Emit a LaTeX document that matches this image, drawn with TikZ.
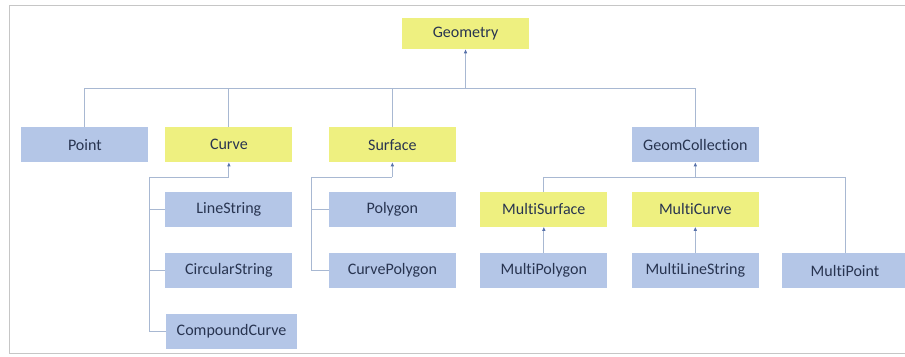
\documentclass[tikz,border=0pt]{standalone}
\usepackage{fontspec}
\setmainfont[Ligatures={NoCommon}]{Carlito}
\usepackage{tikz}
\usepackage{tikz-network}
\usetikzlibrary{arrows.meta}
\definecolor{boxyellow}{RGB}{238,240,128}
\definecolor{boxblue}{RGB}{180,198,231}
\definecolor{linkblue}{RGB}{168,184,210}
\definecolor{tipblue}{RGB}{88,114,170}
\definecolor{labelnavy}{RGB}{40,52,80}
\newcommand{\classfont}{\fontsize{15.2}{17}\selectfont}
\tikzset{
  classbox/.style={rectangle, draw=none, minimum width=4.23cm, minimum height=1.17cm,
    inner sep=0pt, text=labelnavy, font=\classfont},
  bendpoint/.style={inner sep=0pt, outer sep=0pt, minimum size=0pt},
  inherit/.style={line width=0.9pt, -{Latex[length=4pt,width=3.4pt,color=tipblue]}},
  plainlink/.style={line width=0.9pt, -},
}

\begin{document}
\begin{tikzpicture}
		\useasboundingbox (0,0) rectangle (30.17,11.87);
		\draw[gray!45, line width=0.8pt] (30.17,11.70) -- (0.33,11.70) -- (0.33,0.10) -- (30.17,0.10);
		\Vertex[label = Geometry, x = 15.52, y = 10.75, shape = rectangle, color = boxyellow, fontsize = \classfont, fontcolor = labelnavy, style = {classbox, minimum height=1.03cm}]{Geometry}
		\Vertex[label = Point, x = 2.83, y = 7.05, shape = rectangle, color = boxblue, fontsize = \classfont, fontcolor = labelnavy, style = {classbox}]{Point}
		\Vertex[label = Curve, x = 7.63, y = 7.05, shape = rectangle, color = boxyellow, fontsize = \classfont, fontcolor = labelnavy, style = {classbox}]{Curve}
		\Vertex[label = Surface, x = 13.08, y = 7.05, shape = rectangle, color = boxyellow, fontsize = \classfont, fontcolor = labelnavy, style = {classbox}]{Surface}
		\Vertex[label = GeomCollection, x = 23.18, y = 7.05, shape = rectangle, color = boxblue, fontsize = \classfont, fontcolor = labelnavy, style = {classbox}]{GeomCollection}
		\Vertex[label = LineString, x = 7.63, y = 4.90, shape = rectangle, color = boxblue, fontsize = \classfont, fontcolor = labelnavy, style = {classbox}]{LineString}
		\Vertex[label = CircularString, x = 7.63, y = 2.85, shape = rectangle, color = boxblue, fontsize = \classfont, fontcolor = labelnavy, style = {classbox}]{CircularString}
		\Vertex[label = CompoundCurve, x = 7.72, y = 0.83, shape = rectangle, color = boxblue, fontsize = \classfont, fontcolor = labelnavy, style = {classbox, minimum width=4.37cm}]{CompoundCurve}
		\Vertex[label = Polygon, x = 13.08, y = 4.90, shape = rectangle, color = boxblue, fontsize = \classfont, fontcolor = labelnavy, style = {classbox}]{Polygon}
		\Vertex[label = CurvePolygon, x = 13.08, y = 2.85, shape = rectangle, color = boxblue, fontsize = \classfont, fontcolor = labelnavy, style = {classbox}]{CurvePolygon}
		\Vertex[label = MultiSurface, x = 18.13, y = 4.90, shape = rectangle, color = boxyellow, fontsize = \classfont, fontcolor = labelnavy, style = {classbox}]{MultiSurface}
		\Vertex[label = MultiCurve, x = 23.18, y = 4.90, shape = rectangle, color = boxyellow, fontsize = \classfont, fontcolor = labelnavy, style = {classbox}]{MultiCurve}
		\Vertex[label = MultiPolygon, x = 18.13, y = 2.85, shape = rectangle, color = boxblue, fontsize = \classfont, fontcolor = labelnavy, style = {classbox}]{MultiPolygon}
		\Vertex[label = MultiLineString, x = 23.18, y = 2.85, shape = rectangle, color = boxblue, fontsize = \classfont, fontcolor = labelnavy, style = {classbox}]{MultiLineString}
		\Vertex[label = MultiPoint, x = 28.17, y = 2.85, shape = rectangle, color = boxblue, fontsize = \classfont, fontcolor = labelnavy, style = {classbox}]{MultiPoint}
		% bend points
		\Vertex[x = 15.52, y = 8.93, size = 0, style = {bendpoint}, Pseudo]{gTop}
		\Vertex[x = 2.83, y = 8.93, size = 0, style = {bendpoint}, Pseudo]{gPoint}
		\Vertex[x = 7.63, y = 8.93, size = 0, style = {bendpoint}, Pseudo]{gCurve}
		\Vertex[x = 13.08, y = 8.93, size = 0, style = {bendpoint}, Pseudo]{gSurface}
		\Vertex[x = 23.18, y = 8.93, size = 0, style = {bendpoint}, Pseudo]{gColl}
		\Vertex[x = 7.63, y = 5.97, size = 0, style = {bendpoint}, Pseudo]{cTop}
		\Vertex[x = 4.97, y = 5.97, size = 0, style = {bendpoint}, Pseudo]{cLeft}
		\Vertex[x = 4.97, y = 4.90, size = 0, style = {bendpoint}, Pseudo]{cLine}
		\Vertex[x = 4.97, y = 2.85, size = 0, style = {bendpoint}, Pseudo]{cCirc}
		\Vertex[x = 4.97, y = 0.83, size = 0, style = {bendpoint}, Pseudo]{cComp}
		\Vertex[x = 13.08, y = 5.97, size = 0, style = {bendpoint}, Pseudo]{sTop}
		\Vertex[x = 10.40, y = 5.97, size = 0, style = {bendpoint}, Pseudo]{sLeft}
		\Vertex[x = 10.40, y = 4.90, size = 0, style = {bendpoint}, Pseudo]{sPoly}
		\Vertex[x = 10.40, y = 2.85, size = 0, style = {bendpoint}, Pseudo]{sCurvePoly}
		\Vertex[x = 23.18, y = 5.97, size = 0, style = {bendpoint}, Pseudo]{mTop}
		\Vertex[x = 18.13, y = 5.97, size = 0, style = {bendpoint}, Pseudo]{mLeft}
		\Vertex[x = 28.17, y = 5.97, size = 0, style = {bendpoint}, Pseudo]{mRight}
		% Geometry
		\Edge[Direct, color = linkblue, style = {inherit}](gTop)(Geometry)
		\Edge[color = linkblue, style = {plainlink}](gPoint)(gColl)
		\Edge[color = linkblue, style = {plainlink}](gPoint)(Point)
		\Edge[color = linkblue, style = {plainlink}](gCurve)(Curve)
		\Edge[color = linkblue, style = {plainlink}](gSurface)(Surface)
		\Edge[color = linkblue, style = {plainlink}](gColl)(GeomCollection)
		% Curve
		\Edge[Direct, color = linkblue, style = {inherit}](cTop)(Curve)
		\Edge[color = linkblue, style = {plainlink}](cLeft)(cTop)
		\Edge[color = linkblue, style = {plainlink}](cLeft)(cComp)
		\Edge[color = linkblue, style = {plainlink}](cLine)(LineString)
		\Edge[color = linkblue, style = {plainlink}](cCirc)(CircularString)
		\Edge[color = linkblue, style = {plainlink}](cComp)(CompoundCurve)
		% Surface
		\Edge[Direct, color = linkblue, style = {inherit}](sTop)(Surface)
		\Edge[color = linkblue, style = {plainlink}](sLeft)(sTop)
		\Edge[color = linkblue, style = {plainlink}](sLeft)(sCurvePoly)
		\Edge[color = linkblue, style = {plainlink}](sPoly)(Polygon)
		\Edge[color = linkblue, style = {plainlink}](sCurvePoly)(CurvePolygon)
		% GeomCollection
		\Edge[Direct, color = linkblue, style = {inherit}](mTop)(GeomCollection)
		\Edge[color = linkblue, style = {plainlink}](mLeft)(mRight)
		\Edge[color = linkblue, style = {plainlink}](mLeft)(MultiSurface)
		\Edge[color = linkblue, style = {plainlink}](mRight)(MultiPoint)
		\Edge[Direct, color = linkblue, style = {inherit}](MultiPolygon)(MultiSurface)
		\Edge[Direct, color = linkblue, style = {inherit}](MultiLineString)(MultiCurve)
	\end{tikzpicture}
\end{document}
